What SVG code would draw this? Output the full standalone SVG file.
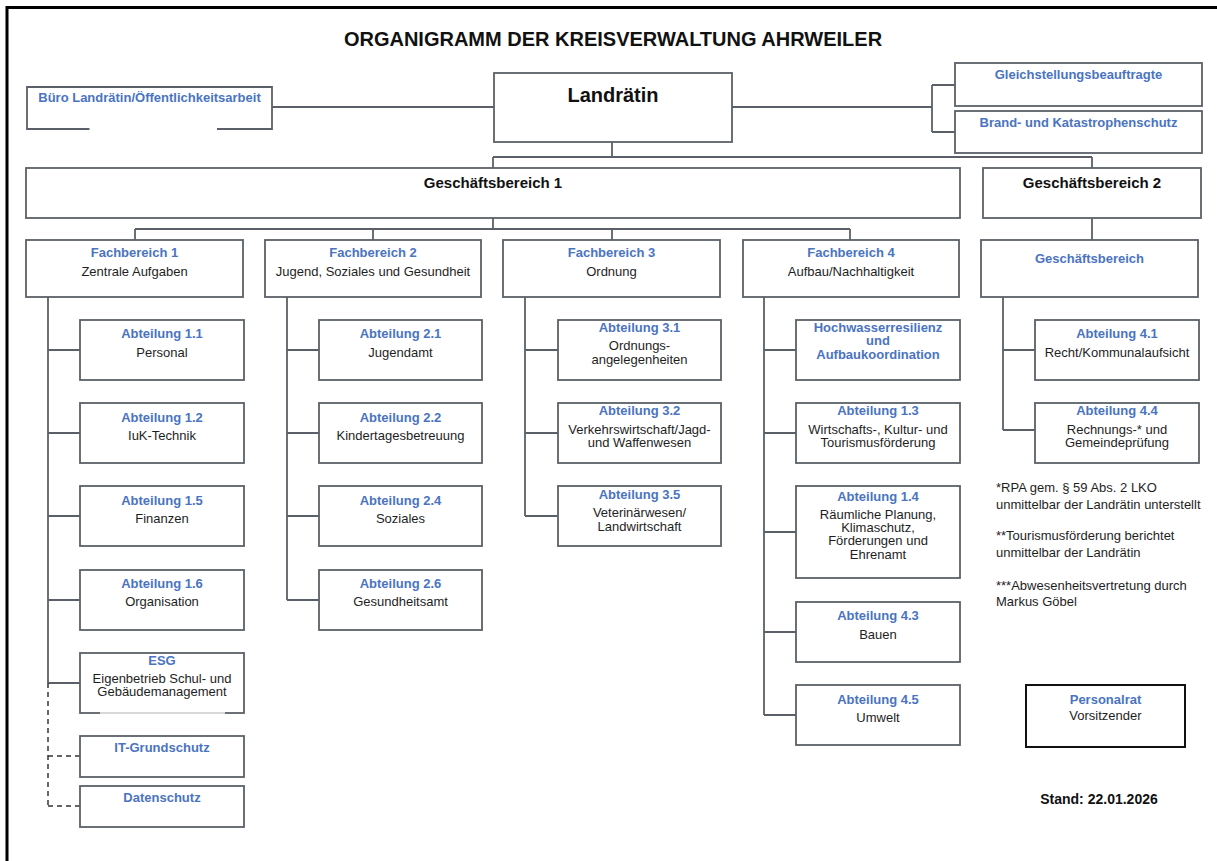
<svg xmlns="http://www.w3.org/2000/svg" width="1217" height="861" viewBox="0 0 1217 861">
<style>
.box{fill:#fff;stroke:#5b6068;stroke-width:1.8}
.ln{stroke:#5b6068;stroke-width:1.8;fill:none}
.dash{stroke:#333;stroke-width:1.5;fill:none;stroke-dasharray:5,4}
.t{font-family:"Liberation Sans",Arial,sans-serif;font-size:13px;fill:#1e1e1e;text-anchor:middle}
.b{font-weight:bold;fill:#4a74bf}
.k{font-weight:bold;fill:#111}
.s20{font-size:20px}
.s15{font-size:15px}
.s14{font-size:14px}
.n{font-family:"Liberation Sans",Arial,sans-serif;font-size:13px;fill:#1e1e1e}
</style>
<rect width="1217" height="861" fill="#fff"/>
<path d="M7,861 V7.5 H1217" fill="none" stroke="#000" stroke-width="3"/>
<text class="t k s20" x="613" y="46">ORGANIGRAMM DER KREISVERWALTUNG AHRWEILER</text>

<g id="connectors">
<path class="ln" d="M272,107 H494"/>
<path class="ln" d="M732,107 H932 M932,85 V132 M932,85 H955 M932,132 H955"/>
<path class="ln" d="M612,142 V157 M493,157 H1092 M493,157 V168 M1092,157 V168"/>
<path class="ln" d="M493,218 V229 M135,229 H850 M135,229 V240 M373,229 V240 M612,229 V240 M850,229 V240 M1092,218 V240"/>
<path class="ln" d="M48,297 V683 M48,350 H80 M48,433 H80 M48,516 H80 M48,600 H80 M48,683 H80"/>
<path class="dash" d="M48,683 V806 M48,756 H80 M48,806 H80"/>
<path class="ln" d="M287,297 V600 M287,350 H319 M287,433 H319 M287,516 H319 M287,600 H319"/>
<path class="ln" d="M525,297 V516 M525,350 H558 M525,433 H558 M525,516 H558"/>
<path class="ln" d="M764,297 V715 M764,350 H796 M764,433 H796 M764,532 H796 M764,632 H796 M764,715 H796"/>
<path class="ln" d="M1003,297 V430 M1003,350 H1035 M1003,430 H1035"/>
</g>

<g id="buero">
<rect x="27" y="87" width="245" height="42" fill="#fff"/>
<path class="ln" d="M89.5,129 H27 V87 H272 V129 H217"/>
<text class="t b" x="149.5" y="102">Büro Landrätin/Öffentlichkeitsarbeit</text>
</g>
<g id="landraetin">
<rect class="box" x="494" y="73" width="238" height="69"/>
<text class="t k s20" x="613" y="101.5">Landrätin</text>
</g>
<g id="gleichstellung">
<rect class="box" x="955" y="63" width="247" height="43"/>
<text class="t b" x="1078.5" y="79">Gleichstellungsbeauftragte</text>
</g>
<g id="brandschutz">
<rect class="box" x="955" y="111" width="247" height="42"/>
<text class="t b" x="1078.5" y="127">Brand- und Katastrophenschutz</text>
</g>
<g id="gb1">
<rect class="box" x="26" y="168" width="934" height="50"/>
<text class="t k s15" x="493" y="188">Geschäftsbereich 1</text>
</g>
<g id="gb2">
<rect class="box" x="983" y="168" width="218" height="50"/>
<text class="t k s15" x="1092" y="188">Geschäftsbereich 2</text>
</g>

<g id="fb1">
<rect class="box" x="26" y="240" width="217" height="57"/>
<text class="t b" x="134.5" y="257">Fachbereich 1</text>
<text class="t" x="134.5" y="275.5">Zentrale Aufgaben</text>
</g>
<g id="fb2">
<rect class="box" x="265" y="240" width="216" height="57"/>
<text class="t b" x="373" y="257">Fachbereich 2</text>
<text class="t" x="373" y="275.5">Jugend, Soziales und Gesundheit</text>
</g>
<g id="fb3">
<rect class="box" x="503" y="240" width="217" height="57"/>
<text class="t b" x="611.5" y="257">Fachbereich 3</text>
<text class="t" x="611.5" y="275.5">Ordnung</text>
</g>
<g id="fb4">
<rect class="box" x="743" y="240" width="216" height="57"/>
<text class="t b" x="851" y="257">Fachbereich 4</text>
<text class="t" x="851" y="275.5">Aufbau/Nachhaltigkeit</text>
</g>
<g id="gb2-bereich">
<rect class="box" x="981" y="240" width="217" height="57"/>
<text class="t b" x="1089.5" y="263">Geschäftsbereich</text>
</g>

<g id="abt11">
<rect class="box" x="80" y="320" width="164" height="60"/>
<text class="t b" x="162" y="338">Abteilung 1.1</text>
<text class="t" x="162" y="356.5">Personal</text>
</g>
<g id="abt12">
<rect class="box" x="80" y="403" width="164" height="60"/>
<text class="t b" x="162" y="421.5">Abteilung 1.2</text>
<text class="t" x="162" y="440">IuK-Technik</text>
</g>
<g id="abt15">
<rect class="box" x="80" y="486" width="164" height="60"/>
<text class="t b" x="162" y="504.5">Abteilung 1.5</text>
<text class="t" x="162" y="523">Finanzen</text>
</g>
<g id="abt16">
<rect class="box" x="80" y="570" width="164" height="60"/>
<text class="t b" x="162" y="588">Abteilung 1.6</text>
<text class="t" x="162" y="606">Organisation</text>
</g>
<g id="esg">
<rect class="box" x="80" y="653" width="164" height="60"/>
<path d="M100,713 H225" stroke="#d8d8d8" stroke-width="2"/>
<text class="t b" x="162" y="664.5">ESG</text>
<text class="t" x="162" y="682.5">Eigenbetrieb Schul- und</text>
<text class="t" x="162" y="696">Gebäudemanagement</text>
</g>
<g id="itgrundschutz">
<rect class="box" x="80" y="736" width="164" height="41"/>
<text class="t b" x="162" y="752">IT-Grundschutz</text>
</g>
<g id="datenschutz">
<rect class="box" x="80" y="786" width="164" height="41"/>
<text class="t b" x="162" y="802">Datenschutz</text>
</g>

<g id="abt21">
<rect class="box" x="319" y="320" width="163" height="60"/>
<text class="t b" x="400.5" y="338">Abteilung 2.1</text>
<text class="t" x="400.5" y="356.5">Jugendamt</text>
</g>
<g id="abt22">
<rect class="box" x="319" y="403" width="163" height="60"/>
<text class="t b" x="400.5" y="421.5">Abteilung 2.2</text>
<text class="t" x="400.5" y="440">Kindertagesbetreuung</text>
</g>
<g id="abt24">
<rect class="box" x="319" y="486" width="163" height="60"/>
<text class="t b" x="400.5" y="504.5">Abteilung 2.4</text>
<text class="t" x="400.5" y="523">Soziales</text>
</g>
<g id="abt26">
<rect class="box" x="319" y="570" width="163" height="60"/>
<text class="t b" x="400.5" y="588">Abteilung 2.6</text>
<text class="t" x="400.5" y="606">Gesundheitsamt</text>
</g>

<g id="abt31">
<rect class="box" x="558" y="320" width="163" height="60"/>
<text class="t b" x="639.5" y="332">Abteilung 3.1</text>
<text class="t" x="639.5" y="350">Ordnungs-</text>
<text class="t" x="639.5" y="363.5">angelegenheiten</text>
</g>
<g id="abt32">
<rect class="box" x="558" y="403" width="163" height="60"/>
<text class="t b" x="639.5" y="415">Abteilung 3.2</text>
<text class="t" x="639.5" y="433.5">Verkehrswirtschaft/Jagd-</text>
<text class="t" x="639.5" y="447">und Waffenwesen</text>
</g>
<g id="abt35">
<rect class="box" x="558" y="486" width="163" height="60"/>
<text class="t b" x="639.5" y="498.5">Abteilung 3.5</text>
<text class="t" x="639.5" y="517">Veterinärwesen/</text>
<text class="t" x="639.5" y="530.5">Landwirtschaft</text>
</g>

<g id="hochwasser">
<rect class="box" x="796" y="320" width="164" height="60"/>
<text class="t b" x="878" y="331.5">Hochwasserresilienz</text>
<text class="t b" x="878" y="345">und</text>
<text class="t b" x="878" y="358.5">Aufbaukoordination</text>
</g>
<g id="abt13">
<rect class="box" x="796" y="403" width="164" height="60"/>
<text class="t b" x="878" y="415">Abteilung 1.3</text>
<text class="t" x="878" y="433.5">Wirtschafts-, Kultur- und</text>
<text class="t" x="878" y="447">Tourismusförderung</text>
</g>
<g id="abt14">
<rect class="box" x="796" y="486" width="164" height="92"/>
<text class="t b" x="878" y="501">Abteilung 1.4</text>
<text class="t" x="878" y="518.5">Räumliche Planung,</text>
<text class="t" x="878" y="532">Klimaschutz,</text>
<text class="t" x="878" y="545">Förderungen und</text>
<text class="t" x="878" y="558.5">Ehrenamt</text>
</g>
<g id="abt43">
<rect class="box" x="796" y="602" width="164" height="60"/>
<text class="t b" x="878" y="620">Abteilung 4.3</text>
<text class="t" x="878" y="638.5">Bauen</text>
</g>
<g id="abt45">
<rect class="box" x="796" y="685" width="164" height="60"/>
<text class="t b" x="878" y="703.5">Abteilung 4.5</text>
<text class="t" x="878" y="722">Umwelt</text>
</g>

<g id="abt41">
<rect class="box" x="1035" y="320" width="164" height="60"/>
<text class="t b" x="1117" y="338">Abteilung 4.1</text>
<text class="t" x="1117" y="356.5">Recht/Kommunalaufsicht</text>
</g>
<g id="abt44">
<rect class="box" x="1035" y="403" width="164" height="60"/>
<text class="t b" x="1117" y="415">Abteilung 4.4</text>
<text class="t" x="1117" y="433.5">Rechnungs-* und</text>
<text class="t" x="1117" y="447">Gemeindeprüfung</text>
</g>

<g id="notes">
<text class="n" x="996" y="492">*RPA gem. § 59 Abs. 2 LKO</text>
<text class="n" x="996" y="508.5">unmittelbar der Landrätin unterstellt</text>
<text class="n" x="996" y="540">**Tourismusförderung berichtet</text>
<text class="n" x="996" y="557">unmittelbar der Landrätin</text>
<text class="n" x="996" y="589.5">***Abwesenheitsvertretung durch</text>
<text class="n" x="996" y="606">Markus Göbel</text>
</g>

<g id="personalrat">
<rect x="1026" y="685" width="159" height="62" fill="#fff" stroke="#111" stroke-width="2"/>
<text class="t b" x="1105.5" y="703.5">Personalrat</text>
<text class="t" x="1105.5" y="720">Vorsitzender</text>
</g>
<text class="t k s14" x="1099" y="803.5">Stand: 22.01.2026</text>
</svg>
